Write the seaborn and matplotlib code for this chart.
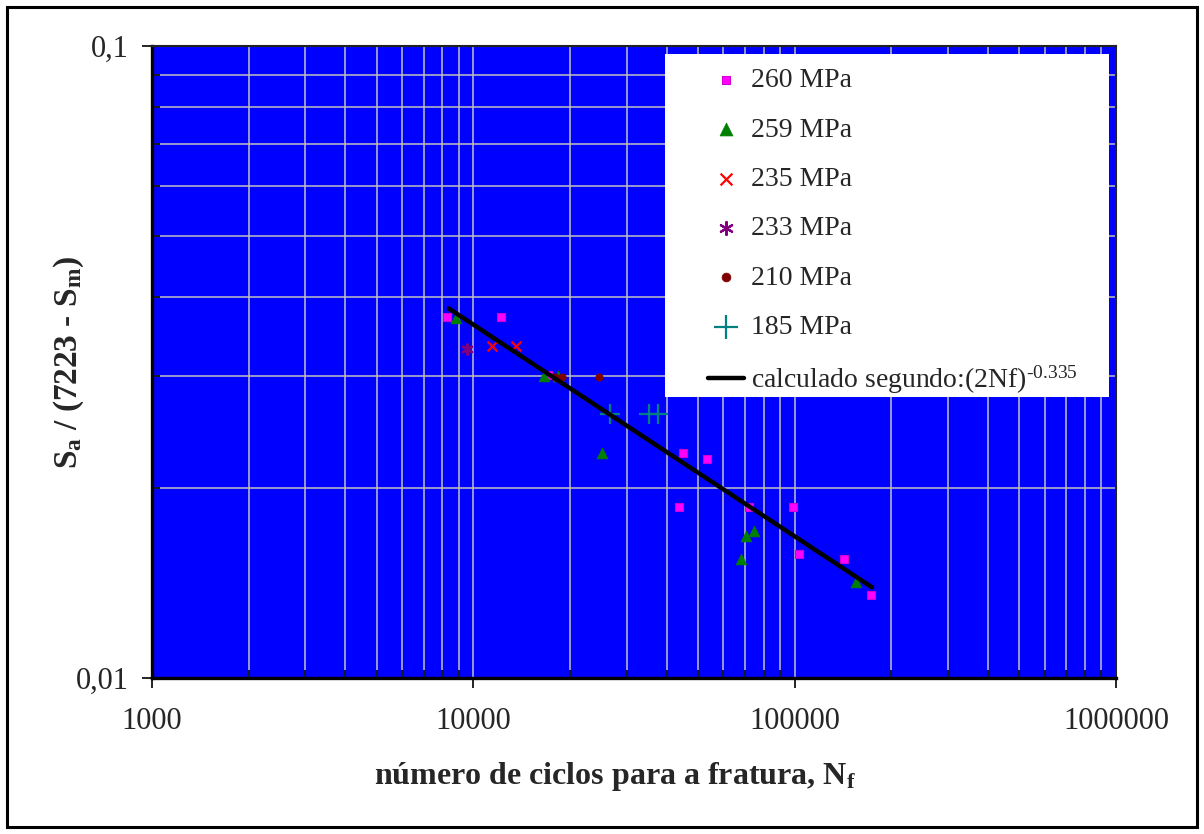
import seaborn as sns
import pandas as pd
import matplotlib.pyplot as plt
import numpy as np
from matplotlib.patches import Rectangle
from matplotlib.ticker import LogLocator, NullFormatter

# valores (N = ciclos, S = Sa / (7223 - Sm))
n_260 = [8260, 12190, 17020, 44980, 53460, 43750, 72300, 99100, 103400, 142600, 173300]
s_260 = [0.0372, 0.0372, 0.0302, 0.02267, 0.0222, 0.01862, 0.01862, 0.01862, 0.01571, 0.01541, 0.01352]

n_259 = [8830, 16600, 18400, 25130, 70640, 74670, 67940, 155300]
s_259 = [0.0371, 0.0300, 0.0301, 0.02272, 0.01678, 0.0171, 0.01545, 0.01419]

n_235 = [11430, 13590]
s_235 = [0.0335, 0.0335]

n_233 = [9530]
s_233 = [0.0332]

n_210 = [17950, 18840, 24660]
s_210 = [0.0299, 0.0299, 0.0299]

n_185 = [26600, 35150, 37580]
s_185 = [0.02617, 0.02617, 0.02617]

# curva calculada: (2Nf)^-0.335
expoente = -0.335
n_curva = np.array([8390, 24770, 37300, 43950, 69000, 101600, 174000])

x_ticks = [1000, 10000, 100000, 1000000]
x_labels = ['1000', '10000', '100000', '1000000']
y_ticks = [0.01, 0.1]
y_labels = ['0,01', '0,1']

sns.set_theme(style='white')
plt.rcParams['font.family'] = ['Liberation Serif', 'DejaVu Serif']
plt.rcParams['mathtext.fontset'] = 'custom'
plt.rcParams['mathtext.rm'] = 'Liberation Serif'
plt.rcParams['mathtext.it'] = 'Liberation Serif:italic'
plt.rcParams['mathtext.bf'] = 'Liberation Serif:bold'

fig = plt.figure(figsize=(12.04, 8.34), dpi=100)
ax = fig.add_axes([152 / 1204, 1 - 678 / 834, 964 / 1204, 632 / 834])
ax.set_xscale('log')
ax.set_yscale('log')
ax.set_facecolor('#0000ff')

series = [
    (n_260, s_260, '260 MPa', 's', 26, '#ff00ff', '#d000d0', 0.8),
    (n_259, s_259, '259 MPa', '^', 60, '#008000', '#008000', 0.5),
    (n_235, s_235, '235 MPa', 'x', 50, '#ff0000', '#ff0000', 1.6),
    (n_233, s_233, '233 MPa', (6, 2, 0), 60, '#800080', '#800080', 1.6),
    (n_210, s_210, '210 MPa', 'o', 28, '#800000', '#800000', 0.5),
    (n_185, s_185, '185 MPa', '+', 220, '#008080', '#008080', 1.6),
]
for n, s, lab, mk, sz, fc, ec, lw in series:
    df = pd.DataFrame({'N': n, 'S': s})
    sns.scatterplot(data=df, x='N', y='S', marker=mk, s=sz, color=fc,
                    edgecolor=ec, linewidth=lw, label=lab, ax=ax, zorder=3)

sns.lineplot(x=n_curva, y=(2 * n_curva) ** expoente, color='black', lw=3.2,
             estimator=None, label=r'calculado segundo:(2Nf)$^{\text{-0.335}}$',
             ax=ax, zorder=4)

ax.set_xlim(1000, 1000000)
ax.set_ylim(0.01, 0.1)
ax.set_xticks(x_ticks, x_labels)
ax.set_yticks(y_ticks, y_labels)
ax.xaxis.set_minor_locator(LogLocator(base=10, subs=np.arange(2, 10)))
ax.yaxis.set_minor_locator(LogLocator(base=10, subs=np.arange(2, 10)))
ax.xaxis.set_minor_formatter(NullFormatter())
ax.yaxis.set_minor_formatter(NullFormatter())
ax.set_axisbelow(True)
ax.grid(True, which='both', color='#c0c0c0', lw=1.1)

ax.tick_params(which='major', direction='out', length=7, width=1.2,
               labelsize=22, color='black', bottom=True, left=True)
ax.tick_params(axis='x', which='major', pad=14)
ax.tick_params(axis='y', which='major', pad=10)
ax.tick_params(which='minor', direction='in', length=6, width=1.2,
               color='black', bottom=True, left=True)

for side in ['left', 'bottom']:
    ax.spines[side].set_linewidth(2.4)
    ax.spines[side].set_color('black')
for side in ['top', 'right']:
    ax.spines[side].set_linewidth(1.5)
    ax.spines[side].set_color('#222222')

ax.set_xlabel(r'número de ciclos para a fratura, $\mathbf{N_f}$',
              fontsize=23, fontweight='bold', va='top')
ax.xaxis.set_label_coords(0.48, -0.13)
ax.set_ylabel(r'$\mathbf{S_a}$ / (7223 - $\mathbf{S_m}$)',
              fontsize=24, fontweight='bold')
ax.yaxis.set_label_coords(-0.068, 0.5)

# caixa branca da legenda
ax.add_patch(Rectangle(((665 - 152) / 964, (678 - 397) / 632),
                       (1109 - 665) / 964, (397 - 54) / 632,
                       transform=ax.transAxes, facecolor='white',
                       edgecolor='none', zorder=4.5))
ax.legend(loc='upper left', bbox_to_anchor=((708 - 152) / 964, (678 - 68) / 632),
          frameon=False, fontsize=20, handlelength=1.3, handletextpad=0.25,
          labelspacing=0.86, borderpad=0, borderaxespad=0, scatterpoints=1,
          markerscale=1.2)
ax.get_legend().set_zorder(6)

fig.patches.append(Rectangle((7 / 1204, 7 / 834), 1190 / 1204, 820 / 834,
                             transform=fig.transFigure, fill=False,
                             edgecolor='black', lw=2.2))

fig.savefig('out.png', dpi=100)
